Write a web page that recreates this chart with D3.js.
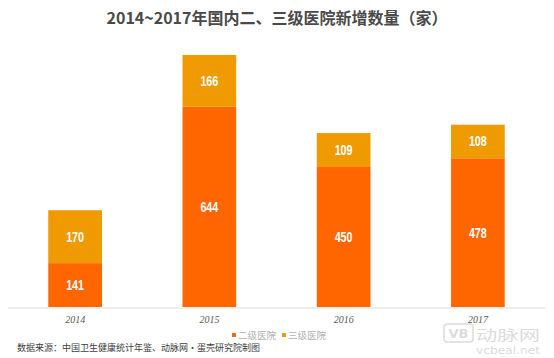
<!DOCTYPE html>
<html><head><meta charset="utf-8">
<script src="https://cdn.jsdelivr.net/npm/d3@7"></script>
<style>body{margin:0;background:#fff}svg{display:block}</style>
</head><body>
<script>
const years = ["2014","2015","2016","2017"];
const secondary = [141, 644, 450, 478];
const tertiary = [170, 166, 109, 108];
const seriesNames = ["二级医院","三级医院"];
const colors = ["#FF6600","#EE9A00"];
const title = "2014~2017年国内二、三级医院新增数量（家）";
const source = "数据来源：中国卫生健康统计年鉴、动脉网·蛋壳研究院制图";

const W=554,H=358;
const svg=d3.select("body").append("svg").attr("width",W).attr("height",H);
svg.append("rect").attr("width",W).attr("height",H).attr("fill","#fff");

svg.append("text").attr("x",277).attr("y",24).attr("text-anchor","middle")
  .attr("font-family","'Noto Sans CJK SC',sans-serif").attr("font-weight","bold")
  .attr("font-size",16).attr("fill","#4a4a4a").text(title);

const x=d3.scaleBand().domain(years).range([8,545]).paddingInner(0.6).paddingOuter(0.3);
const y=d3.scaleLinear().domain([0,810]).range([307,55]);

const data=years.map((yr,i)=>({yr,s:secondary[i],t:tertiary[i]}));
const stack=d3.stack().keys(["s","t"])(data);

stack.forEach((layer,li)=>{
  const g=svg.append("g");
  g.selectAll("rect").data(layer).join("rect")
    .attr("x",d=>x(d.data.yr)).attr("width",x.bandwidth())
    .attr("y",d=>y(d[1])).attr("height",d=>y(d[0])-y(d[1]))
    .attr("fill",colors[li]);
  g.selectAll("text").data(layer).join("text")
    .attr("x",d=>x(d.data.yr)+x.bandwidth()/2)
    .attr("y",d=>(y(d[0])+y(d[1]))/2+5)
    .attr("text-anchor","middle").attr("fill","#fff")
    .attr("font-family","'Liberation Sans',Arial,sans-serif")
    .attr("font-weight","bold").attr("font-size",14)
    .attr("textLength",18).attr("lengthAdjust","spacingAndGlyphs")
    .text(d=>d[1]-d[0]);
});

const ax=svg.append("g").attr("transform","translate(0,308)")
  .call(d3.axisBottom(x).tickSize(0).tickPadding(8));
ax.select(".domain").attr("stroke","#d9d9d9").attr("d","M8,0H545");
ax.selectAll("text").attr("font-family","'Liberation Serif',serif").attr("font-style","italic")
  .attr("font-size",10).attr("fill","#595959");

// legend
const lg=svg.append("g");
const lx=[232,282];
seriesNames.forEach((n,i)=>{
  lg.append("rect").attr("x",lx[i]).attr("y",333).attr("width",4).attr("height",4).attr("fill",colors[i]);
  lg.append("text").attr("x",lx[i]+6).attr("y",339).attr("font-size",9.5)
    .attr("font-family","'Noto Sans CJK SC',sans-serif").attr("fill","#b0b0b0").text(n);
});

svg.append("text").attr("x",17).attr("y",351).attr("font-size",9)
  .attr("font-family","'Noto Sans CJK SC',sans-serif").attr("fill","#404040").text(source);

// watermark
const wm="#dcdcdc";
svg.append("rect").attr("x",444).attr("y",324).attr("width",29).attr("height",18).attr("rx",3)
  .attr("fill","none").attr("stroke",wm).attr("stroke-width",1.5);
svg.append("text").attr("x",458.5).attr("y",338).attr("text-anchor","middle").attr("font-size",13)
  .attr("font-weight","bold").attr("font-family","'DejaVu Sans',sans-serif").attr("fill",wm).text("VB");
svg.append("text").attr("x",476).attr("y",340).attr("font-size",14).attr("textLength",64)
  .attr("lengthAdjust","spacingAndGlyphs")
  .attr("font-family","'Noto Sans CJK SC',sans-serif").attr("fill",wm).text("动脉网");
svg.append("text").attr("x",476).attr("y",354).attr("font-size",11).attr("textLength",64)
  .attr("lengthAdjust","spacingAndGlyphs")
  .attr("font-family","'DejaVu Sans',sans-serif").attr("fill",wm).text("vcbeal.net");
</script>
</body></html>
